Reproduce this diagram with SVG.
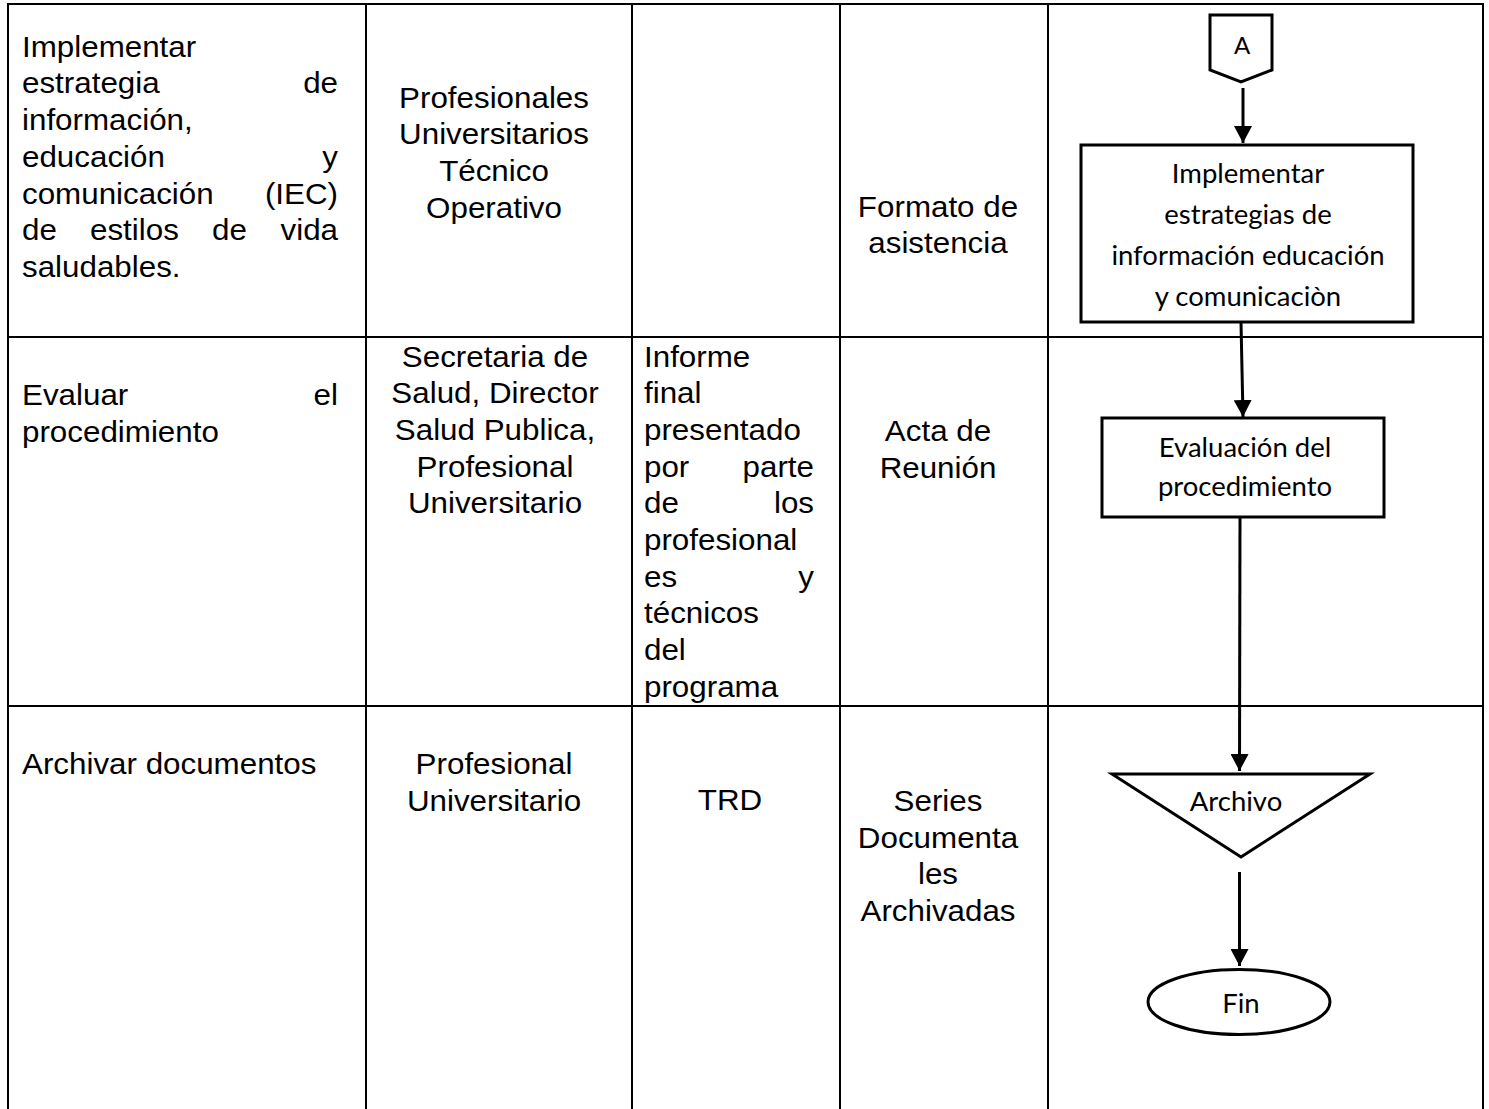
<svg xmlns="http://www.w3.org/2000/svg" width="1489" height="1109" viewBox="0 0 1489 1109">
<style>
.t{font-family:"Liberation Sans",Arial,sans-serif;font-size:30px;fill:#000}
.m{text-anchor:middle}
.e{text-anchor:end}
.c{font-family:Lato,"Open Sans",sans-serif;font-size:27.5px;fill:#000;text-anchor:middle}
.grid line{stroke:#000;stroke-width:2}
.shape{fill:#fff;stroke:#000;stroke-width:3;stroke-linejoin:miter}
.conn{stroke:#000;stroke-width:3;fill:none;marker-end:url(#ah)}
</style>
<defs>
<marker id="ah" viewBox="0 0 17 18" refX="17" refY="9" markerWidth="17" markerHeight="18" markerUnits="userSpaceOnUse" orient="auto">
<path d="M0,0 L17,9 L0,18 z" fill="#000"/>
</marker>
</defs>
<rect width="1489" height="1109" fill="#fff"/>
<g id="table" class="grid">
<line x1="7" y1="4" x2="1484" y2="4"/>
<line x1="8" y1="4" x2="8" y2="1109"/>
<line x1="366" y1="4" x2="366" y2="1109"/>
<line x1="632" y1="4" x2="632" y2="1109"/>
<line x1="840" y1="4" x2="840" y2="1109"/>
<line x1="1048" y1="4" x2="1048" y2="1109"/>
<line x1="1483" y1="4" x2="1483" y2="1109"/>
<line x1="8" y1="337" x2="1483" y2="337"/>
<line x1="8" y1="706" x2="1483" y2="706"/>
</g>
<g id="col1">
<text class="t" transform="translate(22,56.7) scale(1.045,1)">Implementar</text>
<text class="t" transform="translate(22,93.4) scale(1.045,1)">estrategia</text>
<text class="t e" transform="translate(338,93.4) scale(1.045,1)">de</text>
<text class="t" transform="translate(22,130) scale(1.045,1)">información,</text>
<text class="t" transform="translate(22,166.8) scale(1.045,1)">educación</text>
<text class="t e" transform="translate(338,166.8) scale(1.045,1)">y</text>
<text class="t" transform="translate(22,203.5) scale(1.045,1)">comunicación</text>
<text class="t e" transform="translate(338,203.5) scale(1.045,1)">(IEC)</text>
<text class="t" transform="translate(22,240.2) scale(1.045,1)">de</text>
<text class="t" transform="translate(90,240.2) scale(1.045,1)">estilos</text>
<text class="t" transform="translate(212,240.2) scale(1.045,1)">de</text>
<text class="t e" transform="translate(338,240.2) scale(1.045,1)">vida</text>
<text class="t" transform="translate(22,276.9) scale(1.045,1)">saludables.</text>
<text class="t" transform="translate(22,405) scale(1.045,1)">Evaluar</text>
<text class="t e" transform="translate(338,405) scale(1.045,1)">el</text>
<text class="t" transform="translate(22,441.7) scale(1.045,1)">procedimiento</text>
<text class="t" transform="translate(22,774) scale(1.045,1)">Archivar documentos</text>
</g>
<g id="col2">
<text class="t m" transform="translate(494,107.5) scale(1.045,1)">Profesionales</text>
<text class="t m" transform="translate(494,144.2) scale(1.045,1)">Universitarios</text>
<text class="t m" transform="translate(494,180.9) scale(1.045,1)">Técnico</text>
<text class="t m" transform="translate(494,217.6) scale(1.045,1)">Operativo</text>
<text class="t m" transform="translate(495,366.7) scale(1.045,1)">Secretaria de</text>
<text class="t m" transform="translate(495,403.3) scale(1.045,1)">Salud, Director</text>
<text class="t m" transform="translate(495,440) scale(1.045,1)">Salud Publica,</text>
<text class="t m" transform="translate(495,476.7) scale(1.045,1)">Profesional</text>
<text class="t m" transform="translate(495,513.3) scale(1.045,1)">Universitario</text>
<text class="t m" transform="translate(494,774) scale(1.045,1)">Profesional</text>
<text class="t m" transform="translate(494,810.7) scale(1.045,1)">Universitario</text>
</g>
<g id="col3">
<text class="t" transform="translate(644,366.7) scale(1.045,1)">Informe</text>
<text class="t" transform="translate(644,403.3) scale(1.045,1)">final</text>
<text class="t" transform="translate(644,440) scale(1.045,1)">presentado</text>
<text class="t" transform="translate(644,476.7) scale(1.045,1)">por</text>
<text class="t e" transform="translate(814,476.7) scale(1.045,1)">parte</text>
<text class="t" transform="translate(644,513.3) scale(1.045,1)">de</text>
<text class="t e" transform="translate(814,513.3) scale(1.045,1)">los</text>
<text class="t" transform="translate(644,550) scale(1.045,1)">profesional</text>
<text class="t" transform="translate(644,586.7) scale(1.045,1)">es</text>
<text class="t e" transform="translate(814,586.7) scale(1.045,1)">y</text>
<text class="t" transform="translate(644,623.3) scale(1.045,1)">técnicos</text>
<text class="t" transform="translate(644,660) scale(1.045,1)">del</text>
<text class="t" transform="translate(644,696.7) scale(1.045,1)">programa</text>
<text class="t m" transform="translate(730,810) scale(1.045,1)">TRD</text>
</g>
<g id="col4">
<text class="t m" transform="translate(938,216.7) scale(1.045,1)">Formato de</text>
<text class="t m" transform="translate(938,253.3) scale(1.045,1)">asistencia</text>
<text class="t m" transform="translate(938,441) scale(1.045,1)">Acta de</text>
<text class="t m" transform="translate(938,477.5) scale(1.045,1)">Reunión</text>
<text class="t m" transform="translate(938,811) scale(1.045,1)">Series</text>
<text class="t m" transform="translate(938,847.5) scale(1.045,1)">Documenta</text>
<text class="t m" transform="translate(938,884) scale(1.045,1)">les</text>
<text class="t m" transform="translate(938,920.7) scale(1.045,1)">Archivadas</text>
</g>
<g id="connectors">
<line class="conn" x1="1243" y1="88" x2="1243" y2="143"/>
<line class="conn" x1="1241" y1="322" x2="1243" y2="417"/>
<line class="conn" x1="1240" y1="517" x2="1239.5" y2="771"/>
<line class="conn" x1="1239.5" y1="872" x2="1239.5" y2="966"/>
</g>
<g id="node-a">
<polygon class="shape" points="1210,15 1272,15 1272,70 1241,82 1210,70"/>
<text class="c" x="1242" y="54" style="font-size:24px">A</text>
</g>
<g id="node-implementar">
<rect class="shape" x="1081" y="145" width="332" height="177"/>
<text class="c" x="1248" y="183">Implementar</text>
<text class="c" x="1248" y="224">estrategias de</text>
<text class="c" x="1248" y="265">información educación</text>
<text class="c" x="1248" y="306">y comunicaciòn</text>
</g>
<g id="node-evaluacion">
<rect class="shape" x="1102" y="418" width="282" height="99"/>
<text class="c" x="1245" y="456.7">Evaluación del</text>
<text class="c" x="1245" y="496">procedimiento</text>
</g>
<g id="node-archivo">
<polygon class="shape" points="1112,774 1370,774 1241,857"/>
<text class="c" x="1236" y="811">Archivo</text>
</g>
<g id="node-fin">
<ellipse class="shape" cx="1239" cy="1002" rx="91" ry="32.5"/>
<text class="c" x="1241" y="1013">Fin</text>
</g>
</svg>
